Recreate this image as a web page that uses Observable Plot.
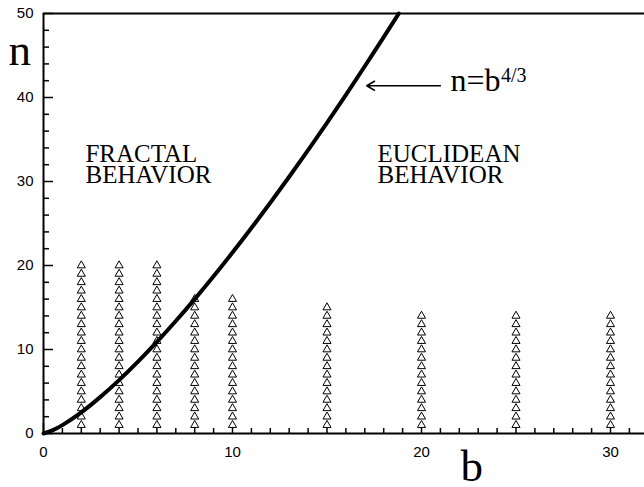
<!DOCTYPE html>
<html><head><meta charset="utf-8">
<script src="https://cdn.jsdelivr.net/npm/d3@7"></script>
<script src="https://cdn.jsdelivr.net/npm/@observablehq/plot@0.6"></script>
<style>body{margin:0;background:#fff}</style>
</head><body><div id="chart"></div>
<script>
// Columns of simulated (b, n) points: n = 1 .. top
const columnB = [2, 4, 6, 8, 10, 15, 20, 25, 30];
const columnTopN = [20, 20, 20, 16, 16, 15, 14, 14, 14];

// Curve n = b^(4/3)
const curveB = [0, 0.5, 1, 2, 3, 4, 5, 6, 7, 8, 9, 10, 11, 12, 13, 14, 15, 16, 17, 18, 18.8];
const curveN = [0, 0.4, 1, 2.52, 4.33, 6.35, 8.55, 10.9, 13.39, 16, 18.72, 21.54, 24.46, 27.47, 30.56, 33.74, 36.99, 40.32, 43.72, 47.18, 50];

// Ticks
const xMajorTicks = [0, 10, 20, 30];
const xMinorTicks = [1,2,3,4,5,6,7,8,9,11,12,13,14,15,16,17,18,19,21,22,23,24,25,26,27,28,29,31];
const yMajorTicks = [0, 10, 20, 30, 40, 50];
const yMinorTicks = [2,4,6,8,12,14,16,18,22,24,26,28,32,34,36,38,42,44,46,48];

// Annotations
const regionLabels = [
  {text: "FRACTAL\nBEHAVIOR", b: 2.22, n: 29.8},
  {text: "EUCLIDEAN\nBEHAVIOR", b: 17.67, n: 29.8}
];
const formulaLabel = {text: "n=b", b: 21.53, n: 40.8};
const formulaSup = {text: "4/3", b: 24.2, n: 41.9};
const arrowData = [{b1: 21.0, n1: 41.4, b2: 17.1, n2: 41.4}];
const axisLabels = [
  {text: "n", b: -1.85, n: 43.9},
  {text: "b", b: 22.06, n: -5.7}
];

const points = [];
columnB.forEach((b, i) => { for (let n = 1; n <= columnTopN[i]; n++) points.push({b, n}); });
const curve = curveB.map((b, i) => ({b, n: curveN[i]}));

const W = 644, H = 487, mL = 43, mR = 0, mT = 13, mB = 54;
const fw = W - mL - mR, fh = H - mT - mB;
const serif = "'Liberation Serif', 'Times New Roman', serif";
const sans = "'Liberation Sans', Arial, Helvetica, sans-serif";

const chart = Plot.plot({
  width: W, height: H,
  marginLeft: mL, marginRight: mR, marginTop: mT, marginBottom: mB,
  x: {domain: [0, (W - mL) / 18.9], axis: null},
  y: {domain: [0, 50], axis: null},
  style: {background: "#fff", overflow: "visible"},
  marks: [
    Plot.axisX(xMajorTicks, {tickSize: 0, tickPadding: 13, fontSize: 15, fontFamily: sans, fill: "#000"}),
    Plot.axisY(yMajorTicks, {tickSize: 0, tickPadding: 10, fontSize: 15, fontFamily: sans, fill: "#000"}),
    Plot.tickX(xMinorTicks, {x: d => d, insetTop: fh - 5, stroke: "#000", strokeWidth: 1.5}),
    Plot.tickX(xMajorTicks, {x: d => d, insetTop: fh - 10, stroke: "#000", strokeWidth: 1.5}),
    Plot.tickY(yMinorTicks, {y: d => d, insetRight: fw - 6, stroke: "#000", strokeWidth: 1.5}),
    Plot.tickY(yMajorTicks, {y: d => d, insetRight: fw - 10, stroke: "#000", strokeWidth: 1.5}),
    Plot.dot(points, {x: "b", y: "n", symbol: "triangle", r: 3, stroke: "#000", fill: "#fff", strokeWidth: 1}),
    Plot.line(curve, {x: "b", y: "n", stroke: "#000", strokeWidth: 4, curve: "catmull-rom"}),
    Plot.ruleY([0], {stroke: "#000", strokeWidth: 2}),
    Plot.ruleY([50], {stroke: "#000", strokeWidth: 2}),
    Plot.ruleX([0], {stroke: "#000", strokeWidth: 2}),
    Plot.text(regionLabels, {x: "b", y: "n", text: "text", textAnchor: "start", lineAnchor: "bottom", lineHeight: 0.84, fontSize: 25, fontFamily: serif, fill: "#000"}),
    Plot.text([formulaLabel], {x: "b", y: "n", text: "text", textAnchor: "start", lineAnchor: "bottom", fontSize: 32, fontFamily: serif, fill: "#000"}),
    Plot.text([formulaSup], {x: "b", y: "n", text: "text", textAnchor: "start", lineAnchor: "bottom", fontSize: 20, fontFamily: serif, fill: "#000"}),
    Plot.arrow(arrowData, {x1: "b1", y1: "n1", x2: "b2", y2: "n2", stroke: "#000", strokeWidth: 1.5, headLength: 9}),
    Plot.text(axisLabels, {x: "b", y: "n", text: "text", textAnchor: "start", lineAnchor: "bottom", fontSize: 45, fontFamily: serif, fill: "#000"})
  ]
});
document.getElementById("chart").appendChild(chart);
</script>
</body></html>
